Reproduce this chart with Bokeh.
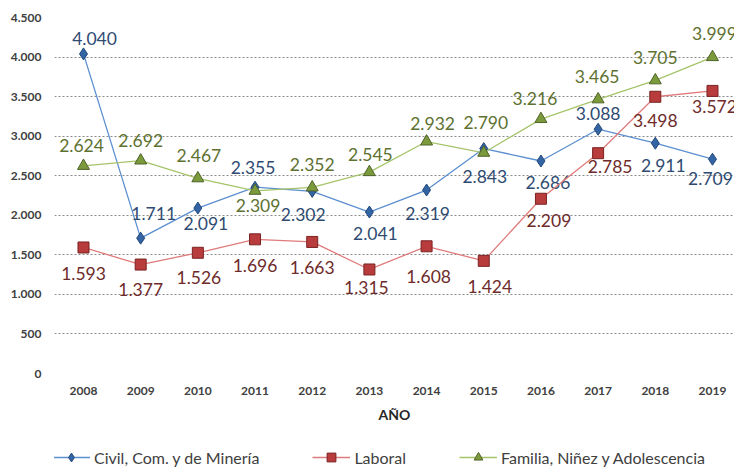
from bokeh.plotting import figure
from bokeh.layouts import column
from bokeh.models import (Range1d, FixedTicker, CustomJSTickFormatter, Legend, LegendItem,
                          ColumnDataSource)
from bokeh.core.properties import value
from bokeh.embed import file_html
from bokeh.resources import INLINE

# ---------------- data ----------------
years = [2008, 2009, 2010, 2011, 2012, 2013, 2014, 2015, 2016, 2017, 2018, 2019]
civil = [4040, 1711, 2091, 2355, 2302, 2041, 2319, 2843, 2686, 3088, 2911, 2709]
laboral = [1593, 1377, 1526, 1696, 1663, 1315, 1608, 1424, 2209, 2785, 3498, 3572]
familia = [2624, 2692, 2467, 2309, 2352, 2545, 2932, 2790, 3216, 3465, 3705, 3999]
series_names = ["Civil, Com. y de Minería", "Laboral", "Familia, Niñez y Adolescencia"]
y_ticks = [0, 500, 1000, 1500, 2000, 2500, 3000, 3500, 4000, 4500]
x_title = "AÑO"

# label placement offsets (screen px, y down)
civil_dx = [11, 13, 8, -2, -9, 6, 1, 1, 7, 0, 8, -2]
civil_dy = [-15, -25, 15, -20, 23, 21, 23, 28, 21, -16, 22, 19]
laboral_dx = [0, 0, 1, 0, 0, -3, 2, 6, 8, 12, 0, 2]
laboral_dy = [26, 25, 25, 26, 26, 18, 30, 26, 22, 13, 24, 16]
familia_dx = [-2, 0, 1, 3, 0, 1, 6, 2, -6, -1, 0, 2]
familia_dy = [-20, -20, -23, 15, -23, -18, -18, -30, -21, -23, -23, -24]


def fmt(v):
    return f"{v:,}".replace(",", ".")


p = figure(width=734, height=428, output_backend="svg", toolbar_location=None,
           x_range=Range1d(2007.493, 2019.385), y_range=Range1d(0, 4500),
           min_border_left=54, min_border_right=0, min_border_top=17, min_border_bottom=55)
p.outline_line_color = None
p.background_fill_color = "white"
p.border_fill_color = "white"
p.xgrid.visible = False
p.ygrid.ticker = FixedTicker(ticks=y_ticks)
p.ygrid.grid_line_color = "#8a8a8a"
p.ygrid.grid_line_dash = "2 2"
p.ygrid.grid_line_width = 1

p.yaxis.ticker = FixedTicker(ticks=y_ticks)
p.yaxis.formatter = CustomJSTickFormatter(
    code="return Math.round(tick).toString().replace(/\\B(?=(\\d{3})+(?!\\d))/g, '.');")
p.xaxis.ticker = FixedTicker(ticks=years)
for ax in (p.xaxis[0], p.yaxis[0]):
    ax.axis_line_color = None
    ax.major_tick_line_color = None
    ax.minor_tick_line_color = None
    ax.major_tick_out = 0
    ax.major_tick_in = 0
    ax.minor_tick_out = 0
    ax.major_label_text_font = "Lato"
    ax.major_label_text_font_style = "bold"
    ax.major_label_text_color = "#404040"
    ax.major_label_text_font_size = "12px"
p.yaxis.major_label_standoff = 13
p.xaxis.major_label_standoff = 13
p.xaxis.axis_label = x_title
p.xaxis.axis_label_text_font = "Lato"
p.xaxis.axis_label_text_font_style = "bold"
p.xaxis.axis_label_text_font_size = "14px"
p.xaxis.axis_label_text_color = "#262626"
p.xaxis.axis_label_standoff = 8

styles = [
    dict(vals=civil, dx=civil_dx, dy=civil_dy, line="#5b8fd0", marker="diamond", size=12,
         fill="#3364a3", edge="#24497a", label="#2f4b72"),
    dict(vals=laboral, dx=laboral_dx, dy=laboral_dy, line="#e07b7b", marker="square", size=11,
         fill="#b83c3c", edge="#7a2222", label="#6e2b2a"),
    dict(vals=familia, dx=familia_dx, dy=familia_dy, line="#a6c46a", marker="triangle", size=12,
         fill="#7a9a3c", edge="#4f6228", label="#5e7131"),
]

# small strip below the chart that carries the legend (its own data range is off-screen)
p2 = figure(width=734, height=40, output_backend="svg", toolbar_location=None,
            min_border=0, x_axis_location=None, y_axis_location=None,
            x_range=Range1d(-20, -10), y_range=Range1d(-20, -10))
p2.outline_line_color = None
p2.grid.visible = False

items = []
for name, st in zip(series_names, styles):
    src = ColumnDataSource(dict(x=years, y=st["vals"], t=[fmt(v) for v in st["vals"]],
                                dx=st["dx"], dy=st["dy"]))
    p.line("x", "y", source=src, line_color=st["line"], line_width=1.3)
    p.scatter("x", "y", source=src, marker=st["marker"], size=st["size"],
              fill_color=st["fill"], line_color=st["edge"], line_width=1)
    p.text("x", "y", text="t", source=src, x_offset="dx", y_offset="dy",
           text_align="center", text_baseline="middle", text_color=st["label"],
           text_font=value("Lato"), text_font_size="17.5px")
    lr = p2.line("x", "y", source=src, line_color=st["line"], line_width=1.3)
    sr = p2.scatter("x", "y", source=src, marker=st["marker"], size=st["size"],
                    fill_color=st["fill"], line_color=st["edge"], line_width=1)
    items.append(LegendItem(label=name, renderers=[lr, sr]))

legend = Legend(items=items, orientation="horizontal", location=(-2, 0),
                spacing=53, glyph_width=38, glyph_height=22, label_height=22,
                label_standoff=4, padding=0, margin=0,
                border_line_color=None, background_fill_alpha=0,
                label_text_font="Lato", label_text_font_size="16px",
                label_text_color="#404040")
p2.add_layout(legend, "center")

open("out.html", "w").write(file_html(column(p, p2, spacing=0), INLINE))
